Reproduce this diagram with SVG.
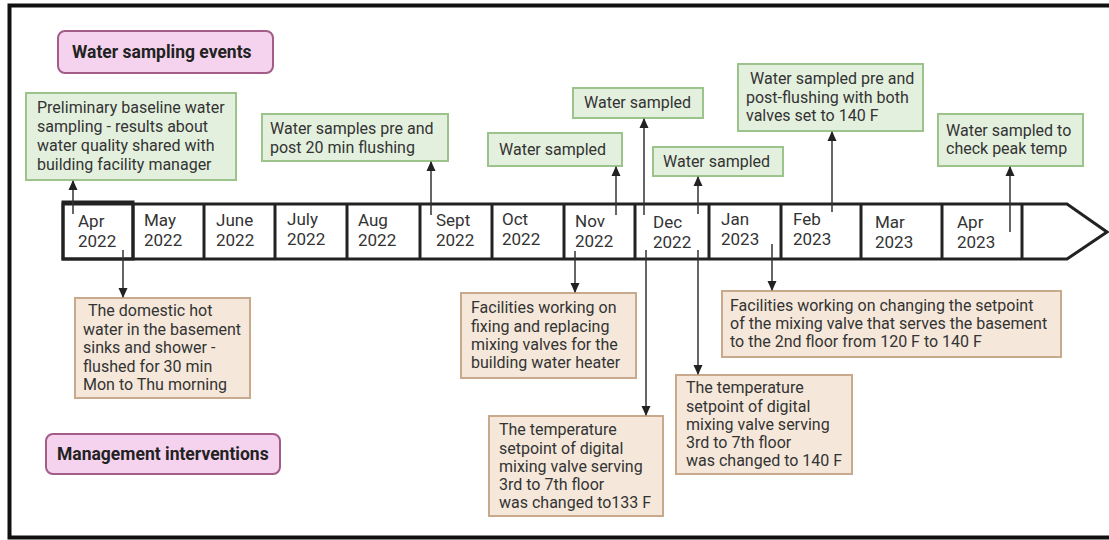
<svg xmlns="http://www.w3.org/2000/svg" width="1109" height="540" viewBox="0 0 1109 540">
<style>
text{font-family:Roboto,"Liberation Sans",sans-serif;font-size:16px;fill:#333}
.mo{font-size:17px}
.lg{font-weight:bold;font-size:17.5px;fill:#222}
.pink{fill:#f5d3ee;stroke:#a35b88;stroke-width:2}
.green{fill:#e4f0de;stroke:#9dc38c;stroke-width:2}
.tan{fill:#f5e8da;stroke:#c8a98c;stroke-width:2}
.cell{fill:#fff;stroke:#222;stroke-width:3}
.div{stroke:#222;stroke-width:3}
.con{stroke:#333;stroke-width:1.5;fill:none;marker-end:url(#ah)}
</style>
<defs>
<marker id="ah" viewBox="0 0 10 10" refX="9" refY="5" markerWidth="10" markerHeight="10" markerUnits="userSpaceOnUse" orient="auto">
<path d="M0,0.5 L10,5 L0,9.5 z" fill="#222"/>
</marker>
</defs>
<rect x="0" y="0" width="1109" height="540" fill="#fff"/>
<rect x="9.5" y="5.5" width="1120" height="532" fill="none" stroke="#111" stroke-width="4"/>

<g id="timeline">
<path class="cell" d="M63,204 L1067,204 L1107,232 L1067,259 L63,259 Z"/>
<rect x="63" y="202" width="70" height="57" fill="none" stroke="#222" stroke-width="3"/>
<line class="div" x1="133" y1="204" x2="133" y2="259"/>
<line class="div" x1="204" y1="204" x2="204" y2="259"/>
<line class="div" x1="275" y1="204" x2="275" y2="259"/>
<line class="div" x1="347" y1="204" x2="347" y2="259"/>
<line class="div" x1="420" y1="204" x2="420" y2="259"/>
<line class="div" x1="492" y1="204" x2="492" y2="259"/>
<line class="div" x1="564" y1="204" x2="564" y2="259"/>
<line class="div" x1="635" y1="204" x2="635" y2="259"/>
<line class="div" x1="709" y1="204" x2="709" y2="259"/>
<line class="div" x1="781" y1="204" x2="781" y2="259"/>
<line class="div" x1="861" y1="204" x2="861" y2="259"/>
<line class="div" x1="942" y1="204" x2="942" y2="259"/>
<line class="div" x1="1022" y1="204" x2="1022" y2="259"/>
<g class="mo">
<text class="mo" x="78" y="227">Apr</text><text class="mo" x="78" y="247">2022</text>
<text class="mo" x="144" y="226">May</text><text class="mo" x="144" y="246">2022</text>
<text class="mo" x="216" y="226">June</text><text class="mo" x="216" y="246">2022</text>
<text class="mo" x="287" y="225">July</text><text class="mo" x="287" y="245">2022</text>
<text class="mo" x="358" y="226">Aug</text><text class="mo" x="358" y="246">2022</text>
<text class="mo" x="436" y="226">Sept</text><text class="mo" x="436" y="246">2022</text>
<text class="mo" x="502" y="225">Oct</text><text class="mo" x="502" y="245">2022</text>
<text class="mo" x="575" y="227">Nov</text><text class="mo" x="575" y="247">2022</text>
<text class="mo" x="653" y="228">Dec</text><text class="mo" x="653" y="248">2022</text>
<text class="mo" x="721" y="225">Jan</text><text class="mo" x="721" y="245">2023</text>
<text class="mo" x="793" y="225">Feb</text><text class="mo" x="793" y="245">2023</text>
<text class="mo" x="875" y="228">Mar</text><text class="mo" x="875" y="248">2023</text>
<text class="mo" x="957" y="228">Apr</text><text class="mo" x="957" y="248">2023</text>
</g>
</g>

<g id="legend-sampling">
<rect class="pink" x="58" y="31" width="215" height="42" rx="7"/>
<text class="lg" x="72" y="58">Water sampling events</text>
</g>
<g id="legend-management">
<rect class="pink" x="46" y="434" width="234" height="40" rx="7"/>
<text class="lg" x="57" y="460">Management interventions</text>
</g>

<g id="s1">
<rect class="green" x="26" y="93" width="210" height="87"/>
<text x="37" y="113">Preliminary baseline water</text>
<text x="37" y="132">sampling - results about</text>
<text x="37" y="151">water quality shared with</text>
<text x="37" y="170">building facility manager</text>
</g>
<g id="s2">
<rect class="green" x="262" y="114" width="186" height="47"/>
<text x="270" y="134">Water samples pre and</text>
<text x="270" y="153">post 20 min flushing</text>
</g>
<g id="s3">
<rect class="green" x="488" y="133" width="134" height="33"/>
<text x="499" y="155">Water sampled</text>
</g>
<g id="s4">
<rect class="green" x="573" y="88" width="130" height="30"/>
<text x="584" y="108">Water sampled</text>
</g>
<g id="s5">
<rect class="green" x="653" y="147" width="130" height="29"/>
<text x="663" y="167">Water sampled</text>
</g>
<g id="s6">
<rect class="green" x="738" y="64" width="185" height="67"/>
<text x="750" y="84">Water sampled pre and</text>
<text x="746" y="103">post-flushing with both</text>
<text x="746" y="121">valves set to 140 F</text>
</g>
<g id="s7">
<rect class="green" x="938" y="114" width="145" height="52"/>
<text x="946" y="136">Water sampled to</text>
<text x="946" y="154">check peak temp</text>
</g>

<g id="m1">
<rect class="tan" x="75" y="298" width="175" height="100"/>
<text x="88" y="316">The domestic hot</text>
<text x="83" y="334.5">water in the basement</text>
<text x="83" y="353">sinks and shower -</text>
<text x="83" y="371.5">flushed for 30 min</text>
<text x="83" y="390">Mon to Thu morning</text>
</g>
<g id="m2">
<rect class="tan" x="461" y="293" width="175" height="85"/>
<text x="471" y="313">Facilities working on</text>
<text x="471" y="331.5">fixing and replacing</text>
<text x="471" y="350">mixing valves for the</text>
<text x="471" y="368">building water heater</text>
</g>
<g id="m3">
<rect class="tan" x="489" y="416" width="174" height="100"/>
<text x="499" y="435">The temperature</text>
<text x="499" y="453.5">setpoint of digital</text>
<text x="499" y="472">mixing valve serving</text>
<text x="499" y="490">3rd to 7th floor</text>
<text x="499" y="508">was changed to133 F</text>
</g>
<g id="m4">
<rect class="tan" x="676" y="375" width="176" height="99"/>
<text x="686" y="393">The temperature</text>
<text x="686" y="411.5">setpoint of digital</text>
<text x="686" y="430">mixing valve serving</text>
<text x="686" y="448">3rd to 7th floor</text>
<text x="686" y="466">was changed to 140 F</text>
</g>
<g id="m5">
<rect class="tan" x="722" y="291" width="339" height="66"/>
<text x="730" y="311">Facilities working on changing the setpoint</text>
<text x="730" y="329">of the mixing valve that serves the basement</text>
<text x="730" y="347">to the 2nd floor from 120 F to 140 F</text>
</g>

<g id="connectors">
<line class="con" x1="73" y1="214" x2="73" y2="181"/>
<line class="con" x1="431" y1="215" x2="431" y2="162"/>
<line class="con" x1="616" y1="215" x2="616" y2="167"/>
<line class="con" x1="644" y1="215" x2="644" y2="119"/>
<line class="con" x1="698" y1="214" x2="698" y2="177"/>
<line class="con" x1="832" y1="212" x2="832" y2="132"/>
<line class="con" x1="1010" y1="232" x2="1010" y2="167"/>
<line class="con" x1="123" y1="250" x2="123" y2="297"/>
<line class="con" x1="575" y1="251" x2="575" y2="292"/>
<line class="con" x1="646" y1="250" x2="646" y2="415"/>
<line class="con" x1="698" y1="250" x2="698" y2="374"/>
<line class="con" x1="772" y1="244" x2="772" y2="290"/>
</g>
</svg>
